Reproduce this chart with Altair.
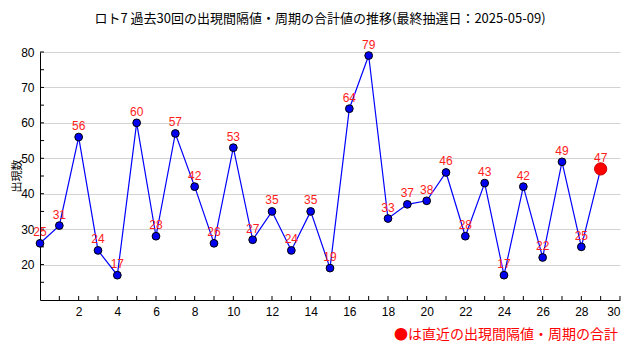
import altair as alt
import pandas as pd

# data
draw_no = list(range(30))
values = [26, 31, 56, 24, 17, 60, 28, 57, 42, 26, 53, 27, 35, 24, 35, 19, 64, 79,
          33, 37, 38, 46, 28, 43, 17, 42, 22, 49, 25, 47]
labels = ["25", "31", "56", "24", "17", "60", "28", "57", "42", "26", "53", "27", "35",
          "24", "35", "19", "64", "79", "33", "37", "38", "46", "28", "43", "17", "42",
          "22", "49", "25", "47"]
y_ticks_major = [20, 30, 40, 50, 60, 70, 80]
y_ticks_minor = [15, 20, 25, 30, 35, 40, 45, 50, 55, 60, 65, 70, 75, 80]
x_ticks_major = [2, 4, 6, 8, 10, 12, 14, 16, 18, 20, 22, 24, 26, 28, 30]
x_ticks_minor = list(range(1, 31))

title_text = "ロト7 過去30回の出現間隔値・周期の合計値の推移(最終抽選日：2025-05-09)"
y_title = "出現数"
note_text = "●は直近の出現間隔値・周期の合計"

W, H = 580, 248
JP = "Noto Sans CJK JP"
NUM = "Liberation Sans"

df = pd.DataFrame({"x": draw_no, "v": values, "lab": labels})
df["latest"] = [i == len(draw_no) - 1 for i in draw_no]

xs = alt.Scale(domain=[0, 30], nice=False, zero=False)
ys = alt.Scale(domain=[10, 80], nice=False, zero=False)

base = alt.Chart(df)

axes = base.mark_point(opacity=0).encode(
    x=alt.X("x:Q", scale=xs,
            axis=alt.Axis(values=x_ticks_major, grid=False, ticks=False, domain=True,
                          domainColor="black", labelFont=NUM, labelFontSize=12,
                          labelColor="black", labelPadding=6, title=None)),
    y=alt.Y("v:Q", scale=ys,
            axis=alt.Axis(values=y_ticks_major, grid=True, gridColor="#d3d3d3",
                          ticks=False, domain=True, domainColor="black",
                          labelFont=NUM, labelFontSize=12, labelColor="black",
                          labelPadding=6, title=None)),
)

ytick_df = pd.DataFrame({"t": y_ticks_minor})
yticks = alt.Chart(ytick_df).mark_rule(color="black", strokeWidth=1).encode(
    y=alt.Y("t:Q", scale=ys), x=alt.value(0), x2=alt.value(4))

xtick_df = pd.DataFrame({"t": x_ticks_minor})
xticks = alt.Chart(xtick_df).mark_rule(color="black", strokeWidth=1).encode(
    x=alt.X("t:Q", scale=xs), y=alt.value(H), y2=alt.value(H - 4))

line = base.mark_line(color="#0000ff", strokeWidth=1.2).encode(
    x=alt.X("x:Q", scale=xs), y=alt.Y("v:Q", scale=ys))

pts = base.transform_filter("!datum.latest").mark_point(
    filled=True, shape="circle", size=60, fill="#0000ee", stroke="black",
    strokeWidth=1, opacity=1).encode(
    x=alt.X("x:Q", scale=xs), y=alt.Y("v:Q", scale=ys))

last = base.transform_filter("datum.latest").mark_point(
    filled=True, shape="circle", size=150, fill="#ff0000", stroke="#cc0000",
    strokeWidth=1, opacity=1).encode(
    x=alt.X("x:Q", scale=xs), y=alt.Y("v:Q", scale=ys))

txt = base.mark_text(color="#ff2020", font=NUM, fontSize=12, dy=-11,
                     baseline="middle", align="center").encode(
    x=alt.X("x:Q", scale=xs), y=alt.Y("v:Q", scale=ys), text="lab:N")

ann = pd.DataFrame({"title": [title_text], "yt": [y_title], "note": [note_text]})
title_mark = alt.Chart(ann).mark_text(font=JP, fontSize=13, color="black",
                                      align="center", baseline="middle").encode(
    x=alt.value(W / 2 - 10), y=alt.value(-33), text="title:N")
ytitle_mark = alt.Chart(ann).mark_text(font=JP, fontSize=11, color="black", angle=270,
                                       align="center", baseline="middle").encode(
    x=alt.value(-22.5), y=alt.value(124), text="yt:N")
note_mark = alt.Chart(ann).mark_text(font=JP, fontSize=14, color="#ff0000",
                                     align="right", baseline="middle").encode(
    x=alt.value(578), y=alt.value(283), text="note:N")

chart = alt.layer(axes, yticks, xticks, line, pts, last, txt,
                  title_mark, ytitle_mark, note_mark).properties(
    width=W, height=H,
    autosize=alt.AutoSizeParams(type="none"),
    padding={"left": 32, "top": 44, "right": 12, "bottom": 52},
    background="white",
).configure_view(strokeWidth=0)

chart.save("out.html", embed_options={"renderer": "svg", "actions": False})
